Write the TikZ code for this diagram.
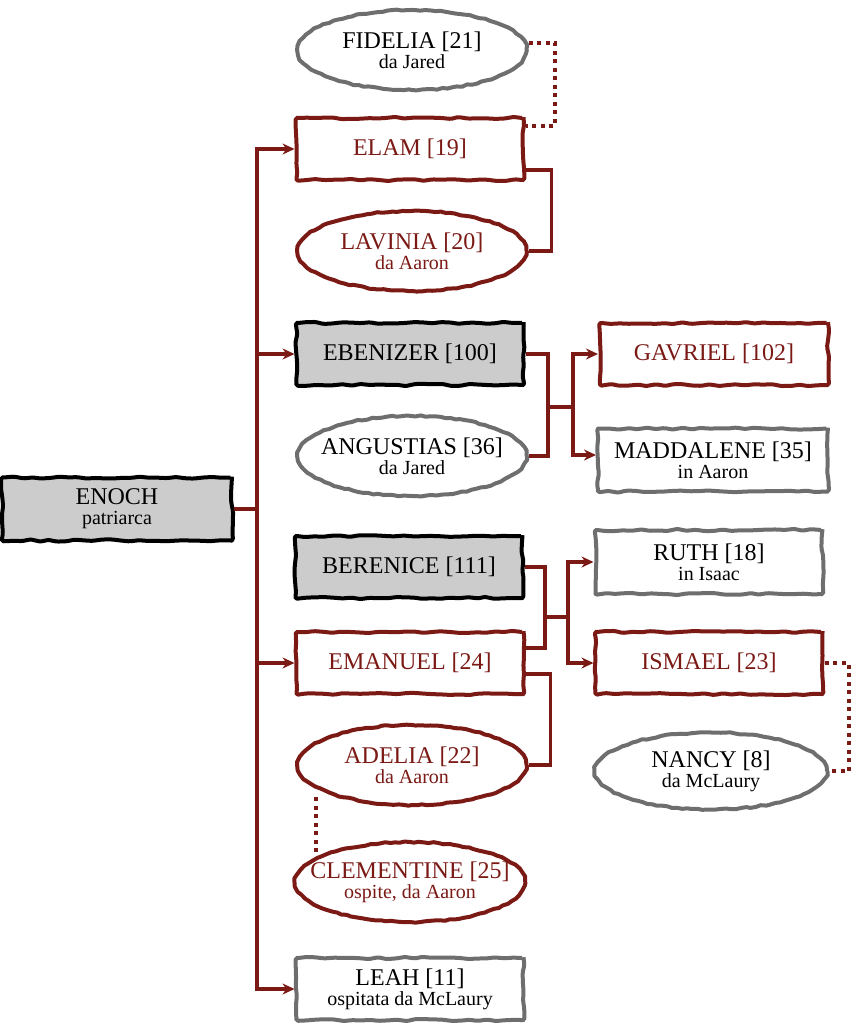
\documentclass[tikz,border=0pt]{standalone}
\usepackage{fontspec}
\setmainfont{Liberation Serif}
\usetikzlibrary{shapes.geometric,arrows.meta,decorations.pathmorphing}
\definecolor{famred}{HTML}{7B1A15}
\definecolor{famgrey}{HTML}{6E6E6E}
\definecolor{famfill}{HTML}{CCCCCC}
\newcommand{\who}[2]{\makebox[0pt]{#1}\\\makebox[0pt]{\fontsize{20}{20}\selectfont #2}}
\newcommand{\one}[1]{\makebox[0pt]{#1}}
\tikzset{
  sketch/.style={decorate,line width=4pt,line join=round},
  fambox/.style={sketch,decoration={random steps,segment length=9pt,amplitude=1.1pt},
    rounded corners=1.5pt,rectangle,minimum width=227pt,minimum height=62pt,fill=white,
    align=center,font=\fontsize{24}{20}\selectfont},
  famell/.style={sketch,decoration={random steps,segment length=5pt,amplitude=0.7pt},
    ellipse,minimum width=229pt,minimum height=80pt,fill=white,
    align=center,font=\fontsize{24}{20}\selectfont},
  kin/.style={draw=famred,text=famred},
  guest/.style={draw=famgrey,text=black},
  head/.style={draw=black,fill=famfill,text=black},
  link/.style={draw=famred,line width=3.6pt},
  descent/.style={link,-{Stealth[length=12pt,width=11pt]}},
  bond/.style={draw=famred,line width=4pt,dash pattern=on 4pt off 4.5pt},
}
\begin{document}
\pgfmathsetseed{7}
\begin{tikzpicture}[x=1pt,y=-1pt]
        \useasboundingbox (0,0) rectangle (853,1024);
        %% Patriarch, on left
        \node[fambox,head,minimum width=230pt,minimum height=63pt] (enoch) at (117,509)
            {\who{ENOCH}{patriarca}};
        %% Children and partners, middle column
        \node[famell,guest] (fidelia) at (412,50) {\who{FIDELIA [21]}{da Jared}};
        \node[fambox,kin] (elam) at (410,149) {\one{ELAM [19]}};
        \node[famell,kin] (lavinia) at (412,251) {\who{LAVINIA [20]}{da Aaron}};
        \node[fambox,head] (ebenizer) at (410,354) {\one{EBENIZER [100]}};
        \node[famell,guest] (angustias) at (412,456) {\who{ANGUSTIAS [36]}{da Jared}};
        \node[fambox,head] (berenice) at (409,567) {\one{BERENICE [111]}};
        \node[fambox,kin] (emanuel) at (410,663) {\one{EMANUEL [24]}};
        \node[famell,kin] (adelia) at (412,765) {\who{ADELIA [22]}{da Aaron}};
        \node[famell,kin,minimum width=230pt] (clementine) at (410,882)
            {\who{CLEMENTINE [25]}{ospite, da Aaron}};
        \node[fambox,guest] (leah) at (410,989) {\who{LEAH [11]}{ospitata da McLaury}};
        %% Grandchildren, right column
        \node[fambox,kin,minimum width=228pt] (gavriel) at (714,354) {\one{GAVRIEL [102]}};
        \node[fambox,guest,minimum width=230pt,minimum height=63pt] (maddalene) at (713,460)
            {\who{MADDALENE [35]}{in Aaron}};
        \node[fambox,guest,minimum height=64pt] (ruth) at (709,562) {\who{RUTH [18]}{in Isaac}};
        \node[fambox,kin] (ismael) at (709,663) {\one{ISMAEL [23]}};
        \node[famell,guest,minimum width=232pt,minimum height=77pt] (nancy) at (711,771)
            {\who{NANCY [8]}{da McLaury}};
        %% Trunk from the patriarch
        \draw[link] (enoch.east) -- ++(23,0) coordinate (trunk);
        \draw[descent] (trunk |- ebenizer.west) |- (elam.west);
        \draw[link] (trunk |- ebenizer.west) -- (trunk |- emanuel.west);
        \draw[descent] (trunk |- ebenizer.west) -- (ebenizer.west);
        \draw[descent] (trunk |- emanuel.west) -- (emanuel.west);
        \draw[descent] (trunk |- emanuel.west) |- (leah.west);
        %% Couples
        \draw[link] ([yshift=-21pt]elam.east) -- ++(26,0) |- (lavinia.east);
        \draw[bond] ([yshift=7pt]fidelia.east) -- ++(26,0) |- ([yshift=23pt]elam.east);
        \draw[link] ([yshift=-11pt]emanuel.east) -- ++(25,0) |- (adelia.east);
        \draw[bond] (ismael.east) -- ++(24,0) |- (nancy.east);
        \draw[bond] ([xshift=-96pt,yshift=10pt]adelia.south)
            -- ([xshift=-94pt,yshift=-13pt]clementine.north);
        %% Ebenizer and Angustias
        \coordinate (eb-j) at (548,407);
        \draw[link] (ebenizer.east) -| (eb-j) |- (angustias.east);
        \draw[link] (eb-j) -- ++(25,0) coordinate (eb-k);
        \draw[descent] (eb-k) |- (gavriel.west);
        \draw[descent] (eb-k) |- ([yshift=5pt]maddalene.west);
        %% Berenice and Emanuel
        \coordinate (be-j) at (545,617);
        \draw[link] (berenice.east) -| (be-j) |- ([yshift=15pt]emanuel.east);
        \draw[link] (be-j) -- ++(23,0) coordinate (be-k);
        \draw[descent] (be-k) |- (ruth.west);
        \draw[descent] (be-k) |- (ismael.west);
    \end{tikzpicture}
\end{document}
